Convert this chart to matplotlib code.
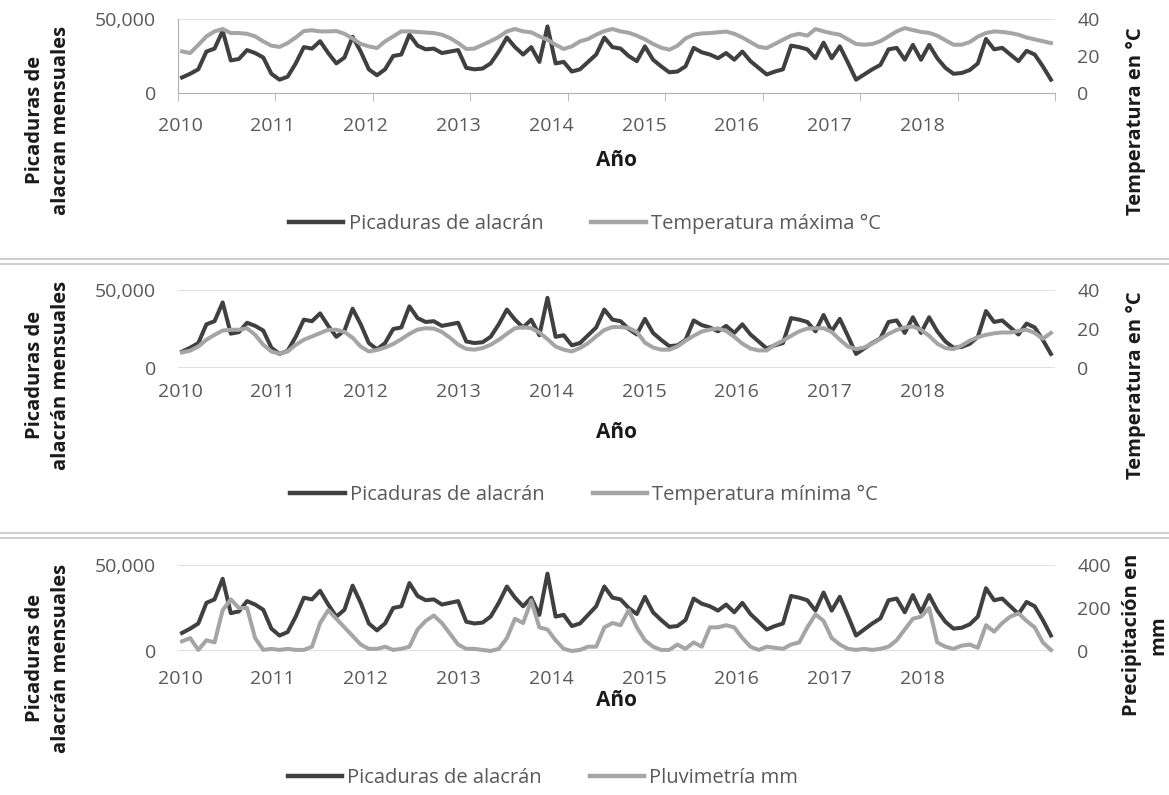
### scorpion stings vs climate, 3 stacked panels (2010-2018, monthly)
import matplotlib
matplotlib.use('Agg')
import matplotlib.pyplot as plt
from matplotlib.lines import Line2D
import numpy as np

plt.rcParams['font.family'] = ['Open Sans', 'DejaVu Sans']

### data ######################################################
years = ['2010', '2011', '2012', '2013', '2014', '2015', '2016', '2017', '2018']

picaduras = [
    10500, 13000, 16000, 28000, 30000, 42000, 22000, 23000, 29000, 27000, 24000, 13000,
    9000, 11000, 20000, 31000, 30000, 35000, 27000, 20000, 24000, 38000, 28000, 16000,
    12000, 16000, 25000, 26000, 39500, 32000, 29500, 30000, 27000, 28000, 29000, 17000,
    16000, 16500, 20000, 28000, 37500, 31000, 26000, 31000, 21000, 45000, 20000, 21000,
    14500, 16000, 21000, 26000, 37500, 31000, 30000, 25000, 21500, 31500, 22500, 18000,
    14000, 14500, 18000, 30500, 27500, 26000, 23500, 27000, 22500, 28000, 21500, 17000,
    12500, 14500, 16000, 32000, 31000, 29500, 23500, 34000, 23500, 31500, 20500, 9000,
    12500, 16000, 19000, 29500, 30500, 22500, 32500, 22500, 32500, 23500, 17000, 13000,
    13500, 15500, 20000, 36500, 29500, 30500, 26000, 21500, 28500, 26000, 18000, 9000]

temp_max = [
    22.5, 21.6, 26.0, 30.6, 33.3, 34.6, 32.4, 32.4, 32.0, 30.6, 27.9, 25.6,
    24.9, 27.0, 30.0, 33.5, 33.9, 33.3, 33.3, 33.5, 32.0, 29.5, 26.5, 25.2,
    24.3, 27.9, 30.6, 33.3, 33.3, 33.0, 32.7, 32.4, 31.5, 29.7, 27.0, 23.8,
    24.0, 26.0, 28.0, 30.3, 33.3, 34.6, 33.3, 32.8, 30.6, 28.8, 26.1, 23.8,
    25.2, 27.9, 29.2, 31.5, 33.5, 34.6, 33.3, 32.6, 31.0, 29.0, 26.5, 24.5,
    23.4, 25.5, 29.5, 31.5, 32.2, 32.4, 32.8, 33.2, 32.0, 30.0, 27.5, 25.0,
    24.3, 26.5, 28.8, 31.0, 32.0, 31.0, 34.6, 33.3, 32.3, 31.5, 29.0, 26.5,
    26.1, 26.5, 28.0, 30.6, 33.3, 35.1, 34.0, 33.0, 32.5, 31.0, 28.5, 26.1,
    26.1, 27.5, 30.5, 32.4, 33.3, 33.0, 32.4, 31.5, 30.0, 29.0, 28.0, 27.0]

temp_min = [
    8.0, 8.9, 11.0, 14.5, 17.0, 19.2, 19.6, 19.6, 20.4, 17.0, 11.9, 8.5,
    7.3, 8.5, 11.9, 14.5, 16.2, 17.9, 19.6, 19.6, 18.5, 15.5, 11.0, 8.5,
    9.2, 10.5, 12.3, 14.8, 17.5, 19.7, 20.4, 20.2, 18.5, 15.5, 12.0, 9.8,
    9.4, 10.2, 11.9, 14.5, 17.5, 20.4, 20.9, 20.4, 18.2, 14.8, 11.0, 9.4,
    8.5, 10.2, 12.8, 16.2, 19.5, 21.0, 21.0, 20.5, 18.5, 13.0, 10.5, 9.4,
    9.4, 11.0, 14.0, 16.5, 18.7, 19.7, 20.3, 19.0, 16.0, 12.5, 10.0, 9.0,
    9.0, 11.9, 14.0, 16.5, 18.8, 20.2, 20.4, 20.4, 18.5, 14.5, 11.0, 9.7,
    10.5, 12.5, 15.0, 17.5, 19.5, 20.8, 21.3, 19.6, 16.5, 12.5, 10.2, 9.7,
    11.5, 14.0, 15.8, 17.0, 17.8, 18.2, 18.2, 19.0, 19.6, 18.0, 15.0, 18.0]

pluvimetria = [
    45, 60, 5, 50, 40, 190, 240, 200, 200, 60, 5, 10,
    5, 10, 5, 5, 20, 130, 190, 150, 110, 70, 30, 10,
    10, 20, 5, 10, 20, 100, 140, 165, 130, 80, 30, 10,
    10, 5, 0, 10, 60, 150, 130, 235, 110, 100, 50, 10,
    0, 5, 20, 20, 110, 130, 120, 190, 110, 50, 20, 5,
    5, 30, 10, 40, 20, 110, 110, 120, 110, 60, 20, 5,
    20, 15, 10, 30, 40, 110, 170, 140, 60, 30, 10, 5,
    10, 5, 10, 20, 50, 100, 150, 160, 200, 40, 20, 10,
    25, 30, 15, 120, 90, 130, 160, 175, 140, 110, 40, 5]

months = np.arange(len(picaduras))

### figure #####################################################
W, H = 1169, 795
fig = plt.figure(figsize=(W / 100, H / 100), dpi=100)
fig.patch.set_facecolor('white')

dark = '#404040'
light = '#a5a5a5'
grid_col = '#d9d9d9'
tick_col = '#595959'
title_col = '#1a1a1a'

X0, X1 = 178, 1055
# year labels in the original sit a bit tighter than one per 12 months
label_step = 11.43


def add_ax(y0, y1):
    return fig.add_axes([X0 / W, 1 - y1 / H, (X1 - X0) / W, (y1 - y0) / H])


def draw_panel(y0, y1, second, smax, sticks, sname, left_lab, right_lab,
               left_y, right_x, right_y, year_pad, ano_y, leg_x, leg_y, axis_line):
    ax = add_ax(y0, y1)
    ax.plot(months, picaduras, color=dark, lw=2.9, clip_on=False)
    ax.set_xlim(-0.5, len(months) - 0.5)
    ax.set_ylim(0, 50000)
    ax.set_yticks([0, 50000])
    ax.set_yticklabels(['0', '50,000'])
    ax.set_xticks(-0.25 + label_step * np.arange(len(years)))
    ax.set_xticklabels(years)
    ax.tick_params(axis='y', length=0, pad=16, labelsize=14, labelcolor=tick_col)
    ax.tick_params(axis='x', length=0, pad=year_pad, labelsize=14, labelcolor=tick_col)
    for s in ax.spines.values():
        s.set_visible(False)
    ax.axhline(50000, color=grid_col, lw=1.2, zorder=0)
    if axis_line:
        ax.spines['left'].set_visible(True)
        ax.spines['left'].set_color('#b0b0b0')
        ax.spines['bottom'].set_visible(True)
        ax.spines['bottom'].set_color('#b0b0b0')
        ax.set_xticks(np.arange(-0.5, len(months), 12), minor=True)
        ax.tick_params(axis='x', which='minor', length=6, color='#b0b0b0')
    else:
        ax.axhline(0, color=grid_col, lw=1.2, zorder=0)

    ax2 = ax.twinx()
    ax2.plot(months, second, color=light, lw=2.9, clip_on=False)
    ax2.set_ylim(0, smax)
    ax2.set_yticks(sticks)
    ax2.tick_params(axis='y', length=0, pad=16, labelsize=14, labelcolor=tick_col)
    for s in ax2.spines.values():
        s.set_visible(False)

    fig.text(48 / W, 1 - left_y / H, left_lab, rotation=90, ha='center', va='center',
             fontsize=14.5, fontweight='bold', color=title_col, linespacing=1.4,
             multialignment='center')
    fig.text(right_x / W, 1 - right_y / H, right_lab, rotation=90, ha='center', va='center',
             fontsize=14.5, fontweight='bold', color=title_col, linespacing=1.4,
             multialignment='center')
    fig.text((X0 + X1) / 2 / W, 1 - ano_y / H, 'Año', ha='center', va='center',
             fontsize=15, fontweight='bold', color=title_col)

    handles = [Line2D([], [], color=dark, lw=3.2), Line2D([], [], color=light, lw=3.2)]
    fig.legend(handles, ['Picaduras de alacrán', sname], loc='center',
               bbox_to_anchor=(leg_x / W, 1 - leg_y / H), ncol=2, frameon=False,
               fontsize=14.5, labelcolor=tick_col, handlelength=2.7,
               handletextpad=0.25, columnspacing=2.4)


draw_panel(19, 93, temp_max, 40, [0, 20, 40], 'Temperatura máxima °C',
           'Picaduras de\nalacran mensuales', 'Temperatura en °C',
           120, 1136, 121, 17, 160, 585, 224, True)
draw_panel(290, 368, temp_min, 40, [0, 20, 40], 'Temperatura mínima °C',
           'Picaduras de\nalacrán mensuales', 'Temperatura en °C',
           375, 1136, 385, 11, 433, 584, 495, False)
draw_panel(565, 651, pluvimetria, 400, [0, 200, 400], 'Pluvimetría mm',
           'Picaduras de\nalacrán mensuales', 'Precipitación en\nmm',
           658, 1145, 635, 14, 700, 543, 778, False)

### separators between the three charts
for yy in [259, 264, 533, 538]:
    fig.add_artist(Line2D([0, 1], [1 - yy / H, 1 - yy / H], transform=fig.transFigure,
                          color='#d0d0d0', lw=1.5))

fig.savefig('out.png', dpi=100, facecolor='white')
